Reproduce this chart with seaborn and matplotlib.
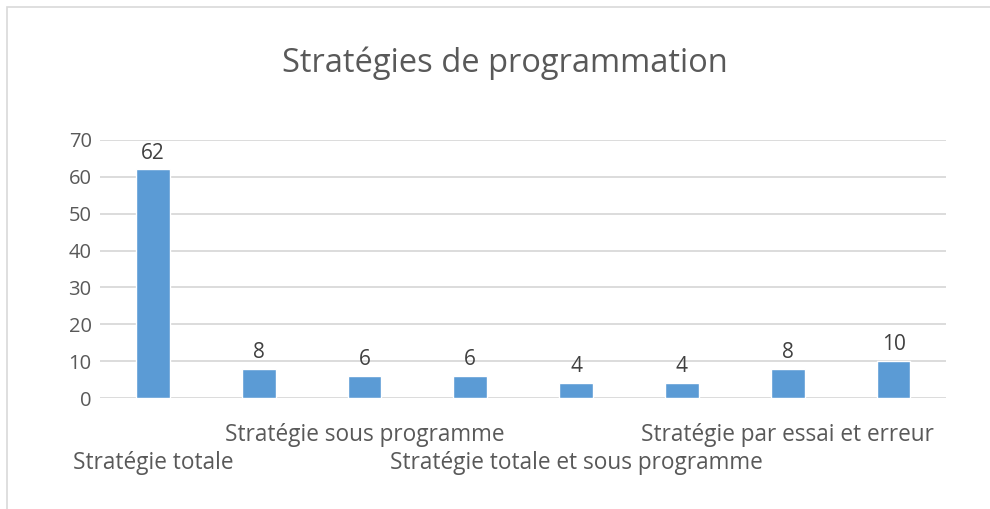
import pandas as pd
import matplotlib.pyplot as plt
import seaborn as sns
from matplotlib.patches import Rectangle

# Data
categories = ["c1", "c2", "c3", "c4", "c5", "c6", "c7", "c8"]
values = [62, 8, 6, 6, 4, 4, 8, 10]
tick_labels = ["Stratégie totale", "", "Stratégie sous programme", "",
               "Stratégie totale et sous programme", "", "Stratégie par essai et erreur", ""]
title = "Stratégies de programmation"

sns.set_style("white")
plt.rcParams['font.family'] = ['Open Sans', 'DejaVu Sans']

text_col = '#595959'
grid_col = '#D9D9D9'
bar_col = '#5B9BD5'

df = pd.DataFrame({'cat': categories, 'val': values})

fig = plt.figure(figsize=(9.9, 5.09), dpi=100)
ax = fig.add_axes([0.101, 0.218, 0.855, 0.507])

sns.barplot(data=df, x='cat', y='val', order=categories, color=bar_col,
            width=0.32, saturation=1, ax=ax, zorder=3)

# data labels
for i, v in enumerate(values):
    ax.text(i, v + 1.6, str(v), ha='center', va='bottom', fontsize=15, color='#404040')

ax.set_ylim(0, 70)
ax.set_yticks(range(0, 71, 10))
ax.set_xlim(-0.5, len(categories) - 0.5)
ax.yaxis.grid(True, color=grid_col, linewidth=1.3, zorder=0)
ax.set_axisbelow(True)
for s in ax.spines.values():
    s.set_visible(False)
ax.tick_params(axis='both', length=0, colors=text_col, labelsize=14.5)
ax.tick_params(axis='y', pad=6)
ax.set_xlabel('')
ax.set_ylabel('')

# staggered category labels, as in the original
ax.set_xticks(range(len(categories)))
ax.set_xticklabels([])
for i, lab in enumerate(tick_labels):
    if not lab:
        continue
    y_off = -0.205 if i % 4 == 0 else -0.095
    ax.text(i, y_off, lab, transform=ax.get_xaxis_transform(), ha='center', va='top',
            fontsize=16.3, color=text_col)

fig.text(0.51, 0.876, title, ha='center', va='center', fontsize=23.5, color=text_col)

# chart frame
fig.patches.append(Rectangle((7 / 990, -0.1), 1.2, 1 - 7 / 509 + 0.1, transform=fig.transFigure,
                             fill=False, edgecolor=grid_col, linewidth=1.2))

plt.savefig('out.png', dpi=100)
